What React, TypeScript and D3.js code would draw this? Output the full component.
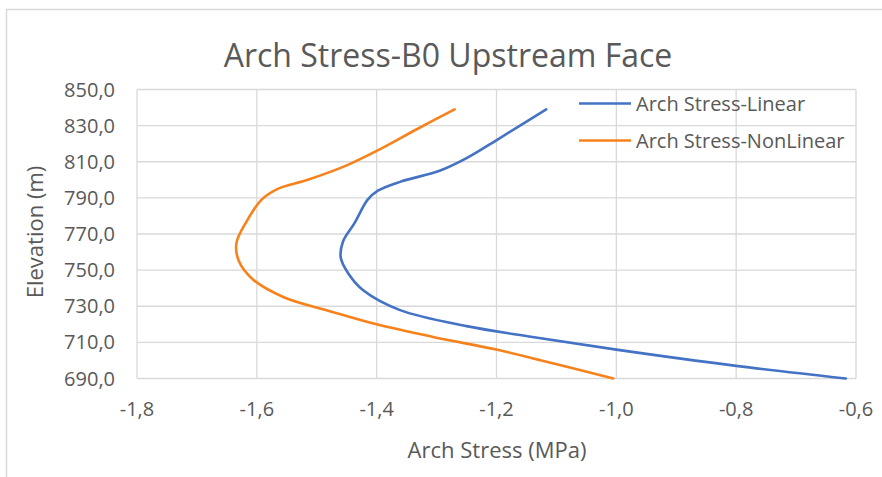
import React from "react";
import * as d3 from "d3";

const chartTitle = "Arch Stress-B0 Upstream Face";
const xAxisTitle = "Arch Stress (MPa)";
const yAxisTitle = "Elevation (m)";

const seriesNames = ["Arch Stress-Linear", "Arch Stress-NonLinear"];
const seriesColors = ["#4472C4", "#F7821B"];

const elevLinear = [839, 823, 812, 805, 799, 794, 789, 776, 766, 757, 748, 739, 728, 719, 713, 706, 697, 690];
const stressLinear = [-1.117, -1.195, -1.25, -1.295, -1.36, -1.398, -1.415, -1.437, -1.456, -1.46, -1.447, -1.423, -1.362, -1.25, -1.14, -1.0, -0.8, -0.617];

const elevNonLinear = [839, 828, 816, 808, 800, 795, 789, 777, 765, 755, 745, 735, 727, 720, 713, 706, 700, 690];
const stressNonLinear = [-1.27, -1.333, -1.4, -1.45, -1.515, -1.565, -1.592, -1.617, -1.634, -1.63, -1.607, -1.555, -1.475, -1.4, -1.306, -1.2, -1.125, -1.005];

const xTicks = [-1.8, -1.6, -1.4, -1.2, -1.0, -0.8, -0.6];
const yTicks = [690, 710, 730, 750, 770, 790, 810, 830, 850];

const W = 882;
const H = 477;
const FONT = "'Open Sans', 'Noto Sans', sans-serif";
const TEXT = "#595959";
const GRID = "#d9d9d9";

const fmt = (v: number) => v.toFixed(1).replace(".", ",");

export default function App() {
  const x = d3.scaleLinear().domain([-1.8, -0.6]).range([137, 856]);
  const y = d3.scaleLinear().domain([690, 850]).range([378.5, 89.5]);

  const line = d3
    .line<[number, number]>()
    .x((d) => x(d[0]))
    .y((d) => y(d[1]))
    .curve(d3.curveCatmullRom.alpha(0.5));

  const series = [
    stressLinear.map((v, i) => [v, elevLinear[i]] as [number, number]),
    stressNonLinear.map((v, i) => [v, elevNonLinear[i]] as [number, number]),
  ];

  return (
    <svg
      width={W}
      height={H}
      style={{ position: "absolute", left: 0, top: 0, background: "#fff" }}
      fontFamily={FONT}
    >
      <rect x={0} y={0} width={W} height={H} fill="#fff" />
      <rect x={6.5} y={9.5} width={W + 20} height={H + 20} fill="none" stroke={GRID} strokeWidth={1.5} />

      <text x={448} y={67} textAnchor="middle" fontSize={32} fill={TEXT}>
        {chartTitle}
      </text>

      {yTicks.map((t) => (
        <line key={"gy" + t} x1={x(-1.8)} x2={x(-0.6)} y1={y(t)} y2={y(t)} stroke={GRID} strokeWidth={1.3} />
      ))}
      {xTicks.map((t) => (
        <line key={"gx" + t} x1={x(t)} x2={x(t)} y1={y(690)} y2={y(850)} stroke={GRID} strokeWidth={1.3} />
      ))}

      {yTicks.map((t) => (
        <text key={"ty" + t} x={115} y={y(t)} dy="0.35em" textAnchor="end" fontSize={20} fill={TEXT}>
          {fmt(t)}
        </text>
      ))}
      {xTicks.map((t) => (
        <text key={"tx" + t} x={x(t)} y={416} textAnchor="middle" fontSize={20} fill={TEXT}>
          {fmt(t)}
        </text>
      ))}

      <text x={497} y={458} textAnchor="middle" fontSize={22} fill={TEXT}>
        {xAxisTitle}
      </text>
      <text transform={`translate(43,232) rotate(-90)`} textAnchor="middle" fontSize={22} fill={TEXT}>
        {yAxisTitle}
      </text>

      {series.map((s, i) => (
        <path key={"s" + i} d={line(s) || ""} fill="none" stroke={seriesColors[i]} strokeWidth={2.6} strokeLinejoin="round" strokeLinecap="round" />
      ))}

      {seriesNames.map((n, i) => {
        const ly = 103.5 + i * 37;
        return (
          <g key={"lg" + i}>
            <line x1={579} x2={631} y1={ly} y2={ly} stroke={seriesColors[i]} strokeWidth={2.6} />
            <text x={636} y={ly} dy="0.35em" fontSize={20} fill={TEXT}>
              {n}
            </text>
          </g>
        );
      })}
    </svg>
  );
}
